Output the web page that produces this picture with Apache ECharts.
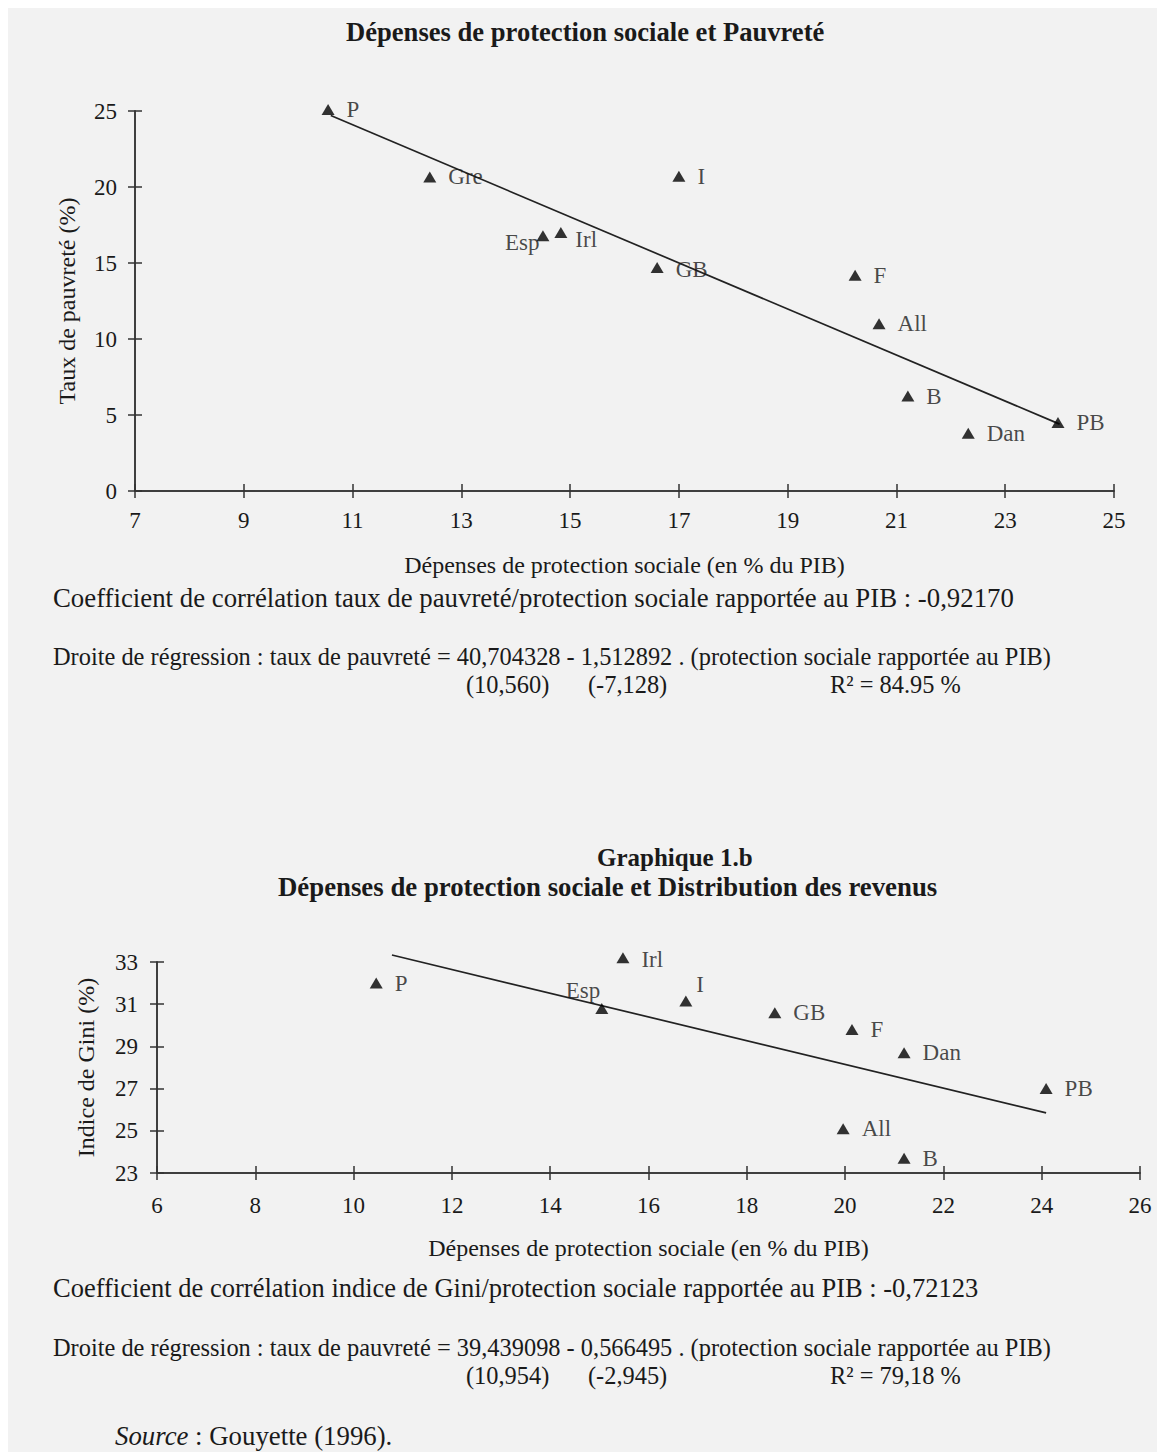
<!DOCTYPE html>
<html>
<head>
<meta charset="utf-8">
<script src="https://cdn.jsdelivr.net/npm/echarts@6/dist/echarts.min.js"></script>
<style>
  html, body { margin: 0; padding: 0; background: #ffffff; }
  #chart { width: 1157px; height: 1452px; }
</style>
</head>
<body>
<div id="chart"></div>
<script>
// ---------- Graphique 1.a : Dépenses de protection sociale et Pauvreté ----------
const pays1 = ['P', 'Gre', 'Esp', 'Irl', 'I', 'GB', 'F', 'All', 'B', 'Dan', 'PB'];
const depenses1 = [10.55, 12.42, 14.5, 14.83, 17.0, 16.6, 20.24, 20.68, 21.21, 22.32, 23.97];
const pauvrete1 = [25.1, 20.66, 16.8, 17.0, 20.7, 14.7, 14.2, 11.0, 6.25, 3.8, 4.5];
const regX1 = [10.6, 24.0];
const regY1 = [24.7, 4.4];

// ---------- Graphique 1.b : Dépenses de protection sociale et Distribution des revenus ----------
const pays2 = ['P', 'Esp', 'Irl', 'I', 'GB', 'F', 'Dan', 'PB', 'All', 'B'];
const depenses2 = [10.46, 15.05, 15.48, 16.76, 18.57, 20.14, 21.2, 24.09, 19.96, 21.2];
const gini2 = [32.0, 30.8, 33.2, 31.15, 30.6, 29.8, 28.7, 27.0, 25.1, 23.7];
const regX2 = [10.78, 24.09];
const regY2 = [33.33, 25.85];

// tick labels
const xTicks1 = [7, 9, 11, 13, 15, 17, 19, 21, 23, 25];
const yTicks1 = [0, 5, 10, 15, 20, 25];
const xTicks2 = [6, 8, 10, 12, 14, 16, 18, 20, 22, 24, 26];
const yTicks2 = [23, 25, 27, 29, 31, 33];

const FONT = '"Liberation Serif", "DejaVu Serif", serif';
const INK = '#1a1a1a';
const TICK_FS = 23;
const PT_FS = 23;

// label placement tweaks (style only)
const labelStyle1 = {
  'Esp': { position: 'left', distance: 0, offset: [3, 7] },
  'Irl': { position: 'right', distance: 8, offset: [0, 7] },
  'GB': { position: 'right', distance: 12, offset: [0, 2] }
};
const labelStyle2 = {
  'Esp': { position: 'left', distance: 0, offset: [5, -18] },
  'I': { position: 'right', distance: 6, offset: [-2, -17] },
  'Irl': { position: 'right', distance: 12, offset: [0, 2] }
};

function points(names, xs, ys, tweaks) {
  return names.map((n, i) => {
    const item = { name: n, value: [xs[i], ys[i]] };
    if (tweaks[n]) item.label = tweaks[n];
    return item;
  });
}

function axisPair(gridIndex, min, max, interval, labelMargin, name, nameGap, extra) {
  const common = {
    type: 'value', gridIndex, min, max, interval,
    splitLine: { show: false },
    axisLine: { show: true, lineStyle: { color: '#333', width: 1.5 } },
  };
  const a = Object.assign({}, common, {
    axisTick: { show: true, length: 7, lineStyle: { color: '#333', width: 1.5 } },
    axisLabel: { show: true, margin: labelMargin, color: INK, fontFamily: FONT, fontSize: TICK_FS },
    name, nameLocation: 'middle', nameGap,
    nameTextStyle: { color: INK, fontFamily: FONT, fontSize: 24 }
  }, extra || {});
  const b = Object.assign({}, common, {
    axisTick: { show: true, inside: true, length: 7, lineStyle: { color: '#333', width: 1.5 } },
    axisLabel: { show: false }
  }, extra || {});
  return [a, b];
}

const x1 = axisPair(0, xTicks1[0], xTicks1[xTicks1.length - 1], 2, 18,
  'Dépenses de protection sociale (en % du PIB)', 62, { position: 'bottom' });
const y1 = axisPair(0, yTicks1[0], yTicks1[yTicks1.length - 1], 5, 18,
  'Taux de pauvreté (%)', 56, { position: 'left' });
const x2 = axisPair(1, xTicks2[0], xTicks2[xTicks2.length - 1], 2, 21,
  'Dépenses de protection sociale (en % du PIB)', 63, { position: 'bottom' });
const y2 = axisPair(1, yTicks2[0], yTicks2[yTicks2.length - 1], 2, 19,
  'Indice de Gini (%)', 59, { position: 'left' });

const txt = (left, top, text, size, extra) => ({
  type: 'text', left, top, z: 10,
  style: Object.assign({ text, fill: INK, font: size + 'px ' + FONT }, extra || {})
});
const bold = (left, top, text, size) => ({
  type: 'text', left, top, z: 10,
  style: { text, fill: INK, font: 'bold ' + size + 'px ' + FONT }
});

const option = {
  backgroundColor: '#ffffff',
  animation: false,
  grid: [
    { left: 135, top: 111, width: 979, height: 380 },
    { left: 157, top: 962, width: 983, height: 211 }
  ],
  xAxis: [x1[0], x1[1], x2[0], x2[1]],
  yAxis: [y1[0], y1[1], y2[0], y2[1]],
  graphic: [
    { type: 'rect', left: 8, top: 8, z: -10, shape: { width: 1149, height: 1444 }, style: { fill: '#f2f2f2' } },
    bold(346, 18, 'Dépenses de protection sociale et Pauvreté', 26.6),
    txt(53, 584, 'Coefficient de corrélation taux de pauvreté/protection sociale rapportée au PIB : -0,92170', 26.8),
    txt(53, 644, 'Droite de régression : taux de pauvreté = 40,704328 - 1,512892 . (protection sociale rapportée au PIB)', 24.4),
    txt(466, 672, '(10,560)', 24.4),
    txt(588, 672, '(-7,128)', 24.4),
    txt(830, 672, 'R² = 84.95 %', 24.4),
    bold(597, 845, 'Graphique 1.b', 25),
    bold(278, 873, 'Dépenses de protection sociale et Distribution des revenus', 26.8),
    txt(53, 1274, 'Coefficient de corrélation indice de Gini/protection sociale rapportée au PIB : -0,72123', 26.5),
    txt(53, 1335, 'Droite de régression : taux de pauvreté = 39,439098 - 0,566495 . (protection sociale rapportée au PIB)', 24.4),
    txt(466, 1363, '(10,954)', 24.4),
    txt(588, 1363, '(-2,945)', 24.4),
    txt(830, 1363, 'R² = 79,18 %', 24.4),
    {
      type: 'text', left: 115, top: 1422, z: 10,
      style: {
        text: '{i|Source} : Gouyette (1996).',
        fill: INK, font: '26.8px ' + FONT,
        rich: { i: { fontStyle: 'italic', fontFamily: FONT, fontSize: 26.8, fill: INK } }
      }
    }
  ],
  series: [
    {
      type: 'line', xAxisIndex: 0, yAxisIndex: 0, clip: false,
      data: regX1.map((x, i) => [x, regY1[i]]),
      showSymbol: false, symbol: 'none',
      lineStyle: { color: '#222', width: 1.7 }, z: 2
    },
    {
      type: 'scatter', xAxisIndex: 0, yAxisIndex: 0, clip: false,
      data: points(pays1, depenses1, pauvrete1, labelStyle1),
      symbol: 'triangle', symbolSize: [13, 11],
      itemStyle: { color: '#000' },
      label: { show: true, position: 'right', distance: 12, formatter: '{b}', color: INK, fontFamily: FONT, fontSize: PT_FS },
      z: 3
    },
    {
      type: 'line', xAxisIndex: 2, yAxisIndex: 2, clip: false,
      data: regX2.map((x, i) => [x, regY2[i]]),
      showSymbol: false, symbol: 'none',
      lineStyle: { color: '#222', width: 1.7 }, z: 2
    },
    {
      type: 'scatter', xAxisIndex: 2, yAxisIndex: 2, clip: false,
      data: points(pays2, depenses2, gini2, labelStyle2),
      symbol: 'triangle', symbolSize: [13, 11],
      itemStyle: { color: '#000' },
      label: { show: true, position: 'right', distance: 12, formatter: '{b}', color: INK, fontFamily: FONT, fontSize: PT_FS },
      z: 3
    }
  ]
};

const chart = echarts.init(document.getElementById('chart'), null, { renderer: 'svg', width: 1157, height: 1452 });
chart.setOption(option);
</script>
</body>
</html>
